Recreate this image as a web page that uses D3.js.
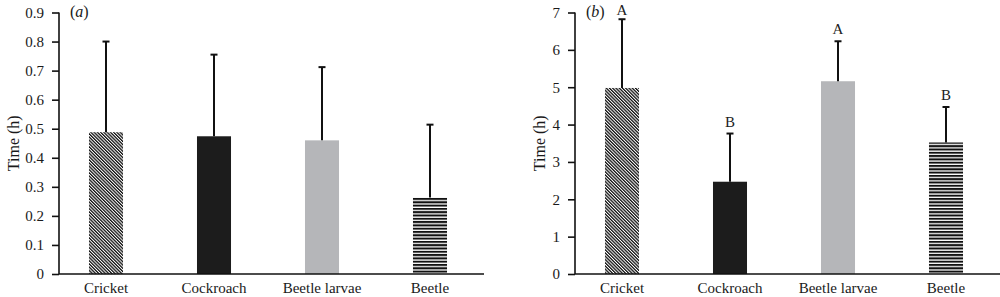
<!DOCTYPE html>
<html>
<head>
<meta charset="utf-8">
<script src="https://cdn.jsdelivr.net/npm/d3@7"></script>
<style>
  body { margin: 0; background: #fff; }
  svg { display: block; font-family: "Liberation Serif", "Times New Roman", serif; }
</style>
</head>
<body>
<svg id="chart" width="1000" height="297"></svg>
<script>
const categories = ["Cricket", "Cockroach", "Beetle larvae", "Beetle"];

const meanA = [0.488, 0.474, 0.46, 0.263];
const errA = [0.80, 0.755, 0.712, 0.514];
const ticksA = [0, 0.1, 0.2, 0.3, 0.4, 0.5, 0.6, 0.7, 0.8, 0.9];

const meanB = [4.98, 2.47, 5.16, 3.52];
const errB = [6.82, 3.76, 6.23, 4.47];
const ticksB = [0, 1, 2, 3, 4, 5, 6, 7];
const lettersB = ["A", "B", "A", "B"];

const fills = ["url(#diag)", "#1c1c1c", "#b5b6b9", "url(#hstripe)"];

const svg = d3.select("#chart");

// patterns
const defs = svg.append("defs");
const diag = defs.append("pattern")
  .attr("id", "diag")
  .attr("patternUnits", "userSpaceOnUse")
  .attr("width", 2.3).attr("height", 10)
  .attr("patternTransform", "rotate(-45)");
diag.append("rect").attr("width", 2.3).attr("height", 10).attr("fill", "#fff");
diag.append("rect").attr("width", 1.3).attr("height", 10).attr("fill", "#111");

const hs = defs.append("pattern")
  .attr("id", "hstripe")
  .attr("patternUnits", "userSpaceOnUse")
  .attr("width", 10).attr("height", 3.3);
hs.append("rect").attr("width", 10).attr("height", 3.3).attr("fill", "#fff");
hs.append("rect").attr("width", 10).attr("height", 2).attr("fill", "#111");

drawPanel({
  axisX: 59, xr: [52, 484], xEnd: 484,
  domain: [0, 0.9], ticks: ticksA, fmt: d => d === 0 ? "0" : d.toFixed(1),
  means: meanA, errs: errA, tag: "a", tagX: 70, titleX: 13
});

drawPanel({
  axisX: 575, xr: [568, 1000], xEnd: 1000,
  domain: [0, 7], ticks: ticksB, fmt: d => d,
  means: meanB, errs: errB, tag: "b", tagX: 586, titleX: 539,
  letters: lettersB
});

function drawPanel(p) {
  const top = 12.5, bottom = 274;
  const g = svg.append("g");

  const x = d3.scaleBand()
    .domain(categories)
    .range(p.xr)
    .paddingInner(0.685)
    .paddingOuter(0.3425);

  const y = d3.scaleLinear()
    .domain(p.domain)
    .range([bottom, top]);

  // bars
  g.selectAll("rect.bar")
    .data(categories)
    .enter()
    .append("rect")
    .attr("class", "bar")
    .attr("x", d => x(d))
    .attr("width", x.bandwidth())
    .attr("y", (d, i) => y(p.means[i]))
    .attr("height", (d, i) => bottom - y(p.means[i]))
    .attr("fill", (d, i) => fills[i]);

  // error bars (upper only)
  const cx = d => x(d) + x.bandwidth() / 2;
  g.selectAll("line.err")
    .data(categories)
    .enter()
    .append("line")
    .attr("x1", cx).attr("x2", cx)
    .attr("y1", (d, i) => y(p.means[i]))
    .attr("y2", (d, i) => y(p.errs[i]))
    .attr("stroke", "#111").attr("stroke-width", 2);

  g.selectAll("line.cap")
    .data(categories)
    .enter()
    .append("line")
    .attr("x1", d => cx(d) - 3.5).attr("x2", d => cx(d) + 3.5)
    .attr("y1", (d, i) => y(p.errs[i]))
    .attr("y2", (d, i) => y(p.errs[i]))
    .attr("stroke", "#111").attr("stroke-width", 2);

  if (p.letters) {
    g.selectAll("text.letter")
      .data(categories)
      .enter()
      .append("text")
      .attr("x", cx)
      .attr("y", (d, i) => Math.max(y(p.errs[i]) - 7, 15))
      .attr("text-anchor", "middle")
      .attr("font-size", 15)
      .attr("fill", "#222")
      .text((d, i) => p.letters[i]);
  }

  // y axis
  const ya = g.append("g")
    .attr("transform", `translate(${p.axisX},0)`)
    .call(d3.axisLeft(y).tickValues(p.ticks).tickFormat(p.fmt)
      .tickSize(7).tickSizeOuter(0).tickPadding(8));
  ya.select(".domain").attr("stroke", "#111").attr("stroke-width", 1.6)
    .attr("d", `M0,${bottom}V${top}`);
  ya.selectAll(".tick line").attr("stroke", "#111").attr("stroke-width", 1.6);
  ya.selectAll(".tick text").attr("font-size", 15).attr("fill", "#1a1a1a")
    .attr("font-family", "Liberation Serif, serif");

  // x axis
  const xa = g.append("g")
    .attr("transform", `translate(0,${bottom})`)
    .call(d3.axisBottom(x).tickSize(0).tickPadding(8));
  xa.select(".domain").remove();
  xa.selectAll(".tick text").attr("font-size", 15).attr("fill", "#1a1a1a")
    .attr("font-family", "Liberation Serif, serif");
  g.append("line")
    .attr("x1", p.axisX).attr("x2", p.xEnd)
    .attr("y1", bottom).attr("y2", bottom)
    .attr("stroke", "#111").attr("stroke-width", 1.6);

  // title and panel tag
  g.append("text")
    .attr("transform", `translate(${p.titleX},${(top + bottom) / 2}) rotate(-90)`)
    .attr("text-anchor", "middle")
    .attr("dy", "0.35em")
    .attr("font-size", 16)
    .attr("fill", "#1a1a1a")
    .text("Time (h)");

  g.append("text")
    .attr("x", p.tagX).attr("y", 17)
    .attr("font-size", 16)
    .attr("fill", "#1a1a1a")
    .html(`(<tspan font-style="italic">${p.tag}</tspan>)`);
}
</script>
</body>
</html>
